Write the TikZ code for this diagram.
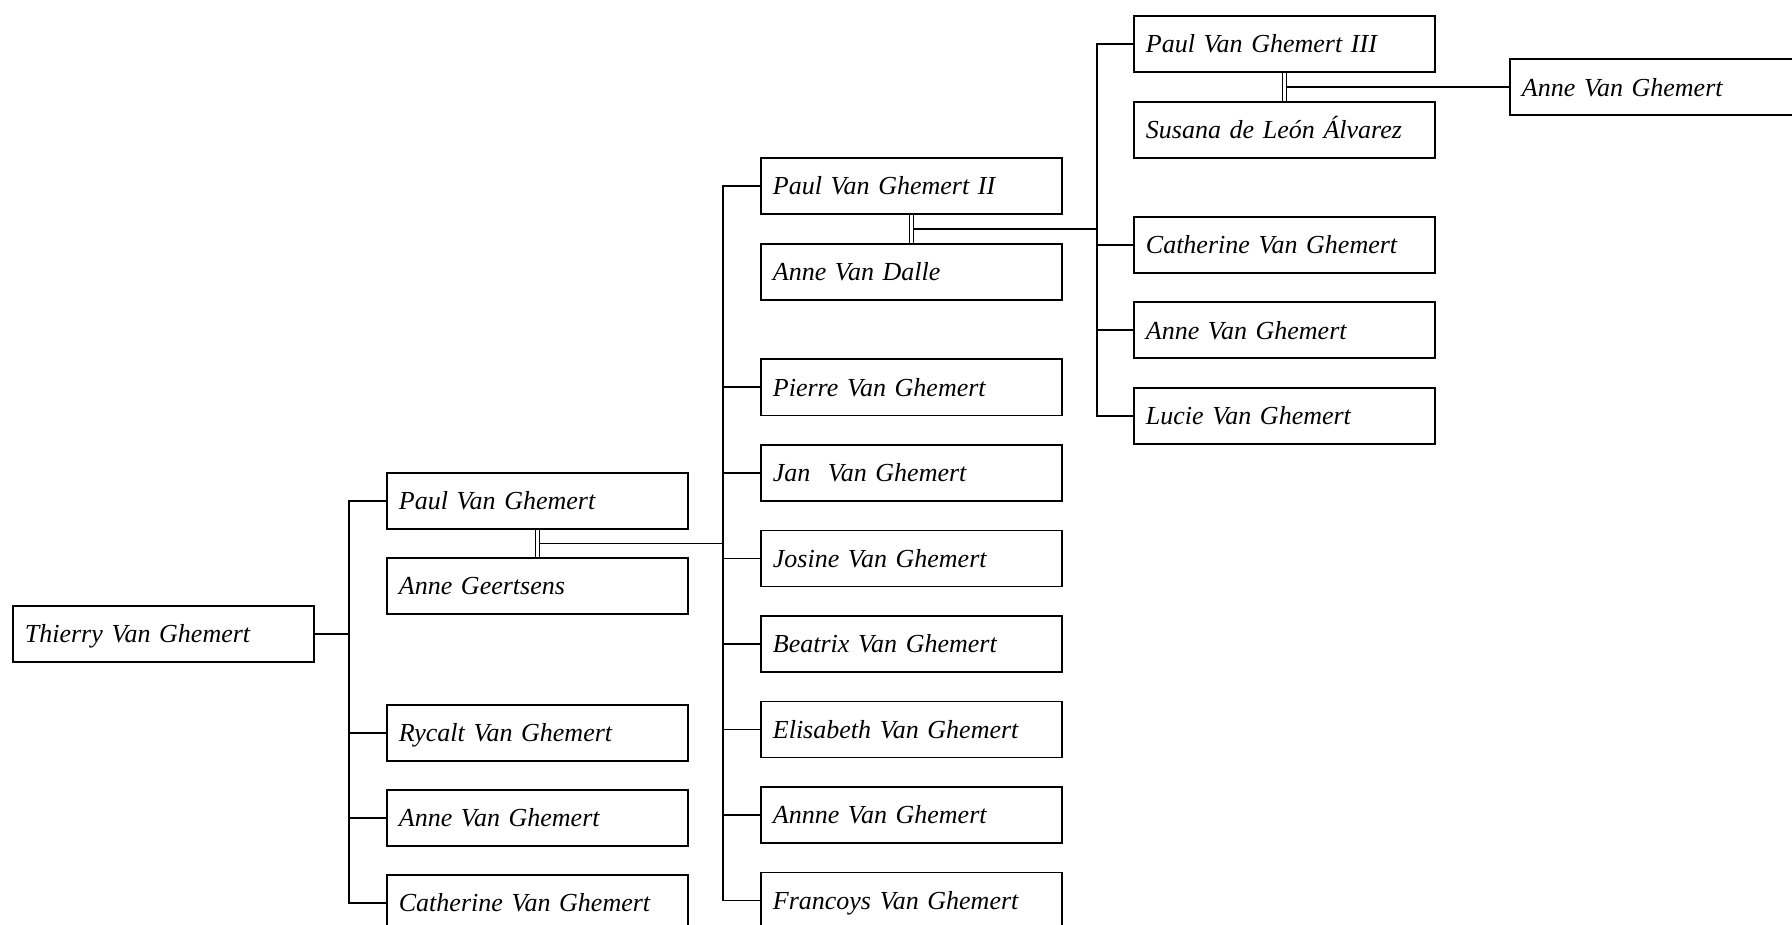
\documentclass[tikz,border=0pt]{standalone}
\usepackage{fontspec}
\setmainfont{Liberation Serif}
\usetikzlibrary{calc}
\tikzset{
  person/.style={draw=black, line width=1.8pt, fill=white, anchor=north west,
    minimum width=301pt, minimum height=56pt, inner xsep=12pt, inner ysep=0pt,
    text width=277pt, align=left, text height=21pt, text depth=3pt,
    font=\fontsize{26pt}{30pt}\selectfont\itshape},
  link/.style={draw=black, line width=1.8pt},
  wed/.style={draw=black, line width=1.4pt, double=white, double distance=2.2pt}
}
\begin{document}
\begin{tikzpicture}[x=1pt,y=-1pt]
\useasboundingbox (0,0) rectangle (1792,925);
\fill[white] (0,0) rectangle (1792,925);
% generation 0
\node[person] (thierry) at (12,605) {Thierry Van Ghemert};
% generation 1
\node[person] (paul) at (386,472) {Paul Van Ghemert};
\node[person] (geertsens) at (386,557) {Anne Geertsens};
\node[person] (rycalt) at (386,704) {Rycalt Van Ghemert};
\node[person] (anneA) at (386,789) {Anne Van Ghemert};
\node[person] (cathA) at (386,874) {Catherine Van Ghemert};
% generation 2
\node[person] (paulII) at (760,157) {Paul Van Ghemert II};
\node[person] (dalle) at (760,243) {Anne Van Dalle};
\node[person] (pierre) at (760,358.5) {Pierre Van Ghemert};
\node[person] (jan) at (760,444) {Jan~ Van Ghemert};
\node[person] (josine) at (760,529.5) {Josine Van Ghemert};
\node[person] (beatrix) at (760,615) {Beatrix Van Ghemert};
\node[person] (elisabeth) at (760,700.5) {Elisabeth Van Ghemert};
\node[person] (annne) at (760,786) {Annne Van Ghemert};
\node[person] (francoys) at (760,871.5) {Francoys Van Ghemert};
% generation 3
\node[person] (paulIII) at (1133,15) {Paul Van Ghemert III};
\node[person] (susana) at (1133,101) {Susana de León Álvarez};
\node[person] (cathB) at (1133,216) {Catherine Van Ghemert};
\node[person] (anneB) at (1133,301.5) {Anne Van Ghemert};
\node[person] (lucie) at (1133,387) {Lucie Van Ghemert};
% generation 4
\node[person] (anneR) at (1509,58.5) {Anne Van Ghemert};

% trunk 1
\coordinate (v1) at ($(paul.west)+(-37,0)$);
\draw[link] (thierry.east) -- (thierry.east -| v1);
\draw[link] (paul.west) -- (v1) |- (cathA.west);
\draw[link] (rycalt.west) -- (rycalt.west -| v1);
\draw[link] (anneA.west) -- (anneA.west -| v1);
% marriage 1
\draw[wed] (paul.south) -- (geertsens.north);
\coordinate (m1) at ($(paul.south)!0.5!(geertsens.north)+(2.5,0)$);
\coordinate (v2) at ($(paulII.west)+(-37,0)$);
\draw[link] (m1) -- (m1 -| v2);
% trunk 2
\draw[link] (paulII.west) -- (v2) |- (francoys.west);
\foreach \n in {pierre,jan,josine,beatrix,elisabeth,annne}
  \draw[link] (\n.west) -- (\n.west -| v2);
% marriage 2
\draw[wed] (paulII.south) -- (dalle.north);
\coordinate (m2) at ($(paulII.south)!0.5!(dalle.north)+(2.5,0)$);
\coordinate (v3) at ($(paulIII.west)+(-36,0)$);
\draw[link] (m2) -- (m2 -| v3);
% trunk 3
\draw[link] (paulIII.west) -- (v3) |- (lucie.west);
\draw[link] (cathB.west) -- (cathB.west -| v3);
\draw[link] (anneB.west) -- (anneB.west -| v3);
% marriage 3
\draw[wed] (paulIII.south) -- (susana.north);
\coordinate (m3) at ($(paulIII.south)!0.5!(susana.north)+(2.5,0)$);
\draw[link] (m3) -- (m3 -| anneR.west);
\end{tikzpicture}
\end{document}
